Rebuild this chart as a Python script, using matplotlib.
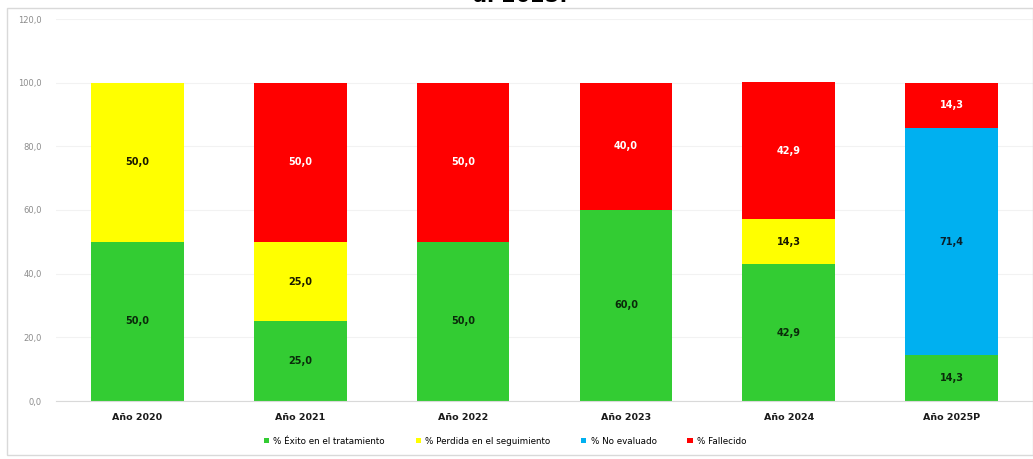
import numpy as np
import matplotlib.pyplot as plt
from matplotlib.patches import Rectangle

categorias = ["Año 2020", "Año 2021", "Año 2022", "Año 2023", "Año 2024", "Año 2025P"]
exito = [50.0, 25.0, 50.0, 60.0, 42.9, 14.3]
perdida = [50.0, 25.0, 0.0, 0.0, 14.3, 0.0]
no_evaluado = [0.0, 0.0, 0.0, 0.0, 0.0, 71.4]
fallecido = [0.0, 50.0, 50.0, 40.0, 42.9, 14.3]

series = [
    ("% Éxito en el tratamiento", exito, "#33CC33", "#0a2a0a"),
    ("% Perdida en el seguimiento", perdida, "#FFFF00", "#1a1a00"),
    ("% No evaluado", no_evaluado, "#00B0F0", "#0a1f2a"),
    ("% Fallecido", fallecido, "#FF0000", "white"),
]
yticks = [0, 20, 40, 60, 80, 100, 120]

fig = plt.figure(figsize=(10.33, 4.59), dpi=100)
# marco del grafico
fig.patches.append(Rectangle((7 / 1033, 4 / 459), 1 - 7 / 1033, 447 / 459,
                             transform=fig.transFigure, fill=False,
                             edgecolor="#d9d9d9", linewidth=1))
# titulo, cortado arriba como en la imagen original
fig.text(0.504, 1 - 2 / 459, "al 2025.", ha="center", va="baseline",
         fontsize=15, fontweight="bold")

ax = fig.add_axes([56 / 1033, 1 - 401 / 459, 1 - 56 / 1033, 382 / 459])
x = np.arange(len(categorias))
bottom = np.zeros(len(categorias))
for nombre, vals, color, tcolor in series:
    vals = np.array(vals)
    ax.bar(x, vals, 0.57, bottom=bottom, color=color, label=nombre, zorder=2)
    for xi, v, b in zip(x, vals, bottom):
        if v > 0:
            ax.text(xi, b + v / 2, f"{v:.1f}".replace(".", ","), ha="center",
                    va="center", fontsize=7, fontweight="bold", color=tcolor)
    bottom += vals

ax.set_xlim(-0.5, 5.5)
ax.set_ylim(0, 120)
ax.set_yticks(yticks)
ax.set_yticklabels([f"{t:.1f}".replace(".", ",") for t in yticks],
                   fontsize=6, color="#8c8c8c")
ax.set_xticks(x)
ax.set_xticklabels(categorias, fontsize=6.8, fontweight="bold", color="#1a1a1a")
ax.tick_params(length=0, pad=9)
ax.tick_params(axis="y", pad=10)
ax.grid(axis="y", color="#f2f2f2", linewidth=0.8, zorder=0)
for s in ["top", "right", "left"]:
    ax.spines[s].set_visible(False)
ax.spines["bottom"].set_color("#d9d9d9")

fig.legend(loc="center", bbox_to_anchor=(0.489, 1 - 441 / 459), ncol=4,
           frameon=False, fontsize=6.3, handlelength=0.6, handleheight=0.6,
           columnspacing=3.5, handletextpad=0.5)

fig.savefig("out.png", dpi=100)
